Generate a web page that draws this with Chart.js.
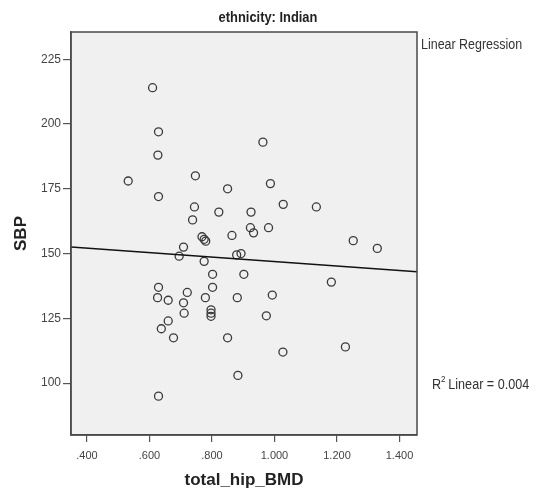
<!DOCTYPE html>
<html>
<head>
<meta charset="utf-8">
<title>SBP vs total_hip_BMD</title>
<script src="https://cdn.jsdelivr.net/npm/chart.js@4/dist/chart.umd.min.js"></script>
<style>
  html, body { margin: 0; padding: 0; background: #ffffff; }
  #wrap { position: relative; width: 539px; height: 500px; }
</style>
</head>
<body>
<div id="wrap"><canvas id="c" width="539" height="500"></canvas></div>
<script>
// total_hip_BMD (x) and SBP (y) for each subject
const bmdValues = [
  0.610, 0.629, 0.627, 0.747, 0.532, 0.850, 0.629, 0.744, 0.822, 0.925,
  0.738, 0.923, 0.933, 0.864, 0.768, 0.775, 0.780, 0.709, 0.695, 0.775,
  0.879, 0.893, 0.802, 0.902, 0.629, 0.802, 0.721, 0.626, 0.660, 0.779,
  0.881, 0.709, 0.711, 0.797, 0.797, 0.797, 0.660, 0.638, 0.677, 0.850,
  0.883, 0.629, 0.963, 0.987, 1.028, 1.134, 0.981, 1.252, 1.329, 1.182,
  0.993, 0.974, 1.027, 1.227
];
const sbpValues = [
  214, 197, 188, 180, 178, 175, 172, 168, 166, 166,
  163, 160, 158, 157, 156.5, 155.5, 154.8, 152.5, 149, 147,
  149.5, 150, 142, 142, 137, 137, 135, 133, 132, 133,
  133, 131, 127, 128.3, 127, 125.8, 124, 121, 117.5, 117.5,
  103, 95, 193, 177, 169, 168, 160, 155, 152, 139,
  134, 126, 112, 114
];

// Fitted linear regression: SBP = intercept + slope * BMD
const regIntercept = 155.6;
const regSlope = -8.67;
const rSquared = "0.004";

// Axis ranges and tick positions
const xRange = [0.349, 1.456];
const yRange = [80, 235.5];
const xTicks = [0.4, 0.6, 0.8, 1.0, 1.2, 1.4];
const yTicks = [100, 125, 150, 175, 200, 225];

const chartTitle = "ethnicity: Indian";
const xTitle = "total_hip_BMD";
const yTitle = "SBP";
const fitLegend = "Linear Regression";

const points = bmdValues.map((x, i) => ({ x: x, y: sbpValues[i] }));
const fitLine = xRange.map(x => ({ x: x, y: regIntercept + regSlope * x }));

const sans = '"Liberation Sans", Arial, sans-serif';

function fmtBmd(v) {
  const s = v.toFixed(3);
  return s.startsWith("0") ? s.slice(1) : s;
}

// Draws text squeezed horizontally (condensed look), left-aligned at x
function condensedText(ctx, parts, x, y, squeeze) {
  ctx.save();
  ctx.translate(x, y);
  ctx.scale(squeeze, 1);
  let cx = 0;
  for (const p of parts) {
    ctx.font = p.font;
    ctx.fillText(p.text, cx, p.dy || 0);
    cx += ctx.measureText(p.text).width + (p.gap || 0);
  }
  ctx.restore();
}

// Panel background, frame and side annotations
const framePlugin = {
  id: 'frame',
  beforeDraw(chart) {
    const { ctx, chartArea: a } = chart;
    ctx.save();
    ctx.fillStyle = '#f0f0f0';
    ctx.fillRect(a.left, a.top, a.right - a.left, a.bottom - a.top);
    ctx.restore();
  },
  afterDraw(chart) {
    const { ctx, chartArea: a } = chart;
    ctx.save();
    ctx.strokeStyle = '#4a4a4a';
    ctx.lineWidth = 1.5;
    ctx.strokeRect(a.left, a.top, a.right - a.left, a.bottom - a.top);

    // chart title
    ctx.fillStyle = '#222222';
    ctx.textBaseline = 'middle';
    ctx.textAlign = 'left';
    ctx.font = 'bold 14px ' + sans;
    const tw = ctx.measureText(chartTitle).width * 0.92;
    condensedText(ctx, [{ text: chartTitle, font: 'bold 14px ' + sans }], 268 - tw / 2, 18, 0.92);

    // fit legend and R squared
    ctx.fillStyle = '#333333';
    condensedText(ctx, [{ text: fitLegend, font: '14px ' + sans }], a.right + 4, 45, 0.89);
    condensedText(ctx, [
      { text: 'R', font: '14px ' + sans },
      { text: '2', font: '9px ' + sans, dy: -5, gap: 3 },
      { text: 'Linear = ' + rSquared, font: '14px ' + sans }
    ], a.right + 15, 385, 0.9);
    ctx.restore();
  }
};

new Chart(document.getElementById('c'), {
  type: 'scatter',
  data: {
    datasets: [
      {
        label: 'SBP',
        data: points,
        pointStyle: 'circle',
        pointRadius: 4,
        pointHoverRadius: 4,
        borderColor: '#3a3a3a',
        borderWidth: 1.3,
        backgroundColor: 'rgba(0,0,0,0)',
        order: 2
      },
      {
        label: fitLegend,
        type: 'line',
        data: fitLine,
        borderColor: '#111111',
        borderWidth: 1.5,
        pointRadius: 0,
        fill: false,
        order: 1
      }
    ]
  },
  options: {
    responsive: false,
    animation: false,
    events: [],
    layout: { padding: { left: 0, right: 122, top: 32, bottom: 0 } },
    plugins: {
      legend: { display: false },
      title: { display: false },
      tooltip: { enabled: false }
    },
    scales: {
      x: {
        type: 'linear',
        min: xRange[0],
        max: xRange[1],
        afterBuildTicks(scale) { scale.ticks = xTicks.map(v => ({ value: v })); },
        afterFit(scale) { scale.height = 65; },
        border: { display: true, color: '#4a4a4a', width: 1.5 },
        grid: { drawOnChartArea: false, drawTicks: true, tickLength: 7, color: '#555555', lineWidth: 1.2 },
        ticks: {
          padding: 7,
          color: '#444444',
          font: { family: sans, size: 11 },
          callback: v => fmtBmd(v),
          maxRotation: 0
        },
        title: {
          display: true,
          text: xTitle,
          color: '#222222',
          font: { family: sans, size: 17, weight: 'bold' },
          padding: { top: 0, bottom: 9 }
        }
      },
      y: {
        type: 'linear',
        min: yRange[0],
        max: yRange[1],
        afterBuildTicks(scale) { scale.ticks = yTicks.map(v => ({ value: v })); },
        afterFit(scale) { scale.width = 71; },
        border: { display: true, color: '#4a4a4a', width: 1.5 },
        grid: { drawOnChartArea: false, drawTicks: true, tickLength: 8, color: '#555555', lineWidth: 1.2 },
        ticks: {
          padding: 2,
          color: '#444444',
          font: { family: sans, size: 12 },
          callback: v => String(v)
        },
        title: {
          display: true,
          text: yTitle,
          color: '#222222',
          font: { family: sans, size: 17, weight: 'bold' },
          padding: { top: 11, bottom: 0 }
        }
      }
    }
  },
  plugins: [framePlugin]
});
</script>
</body>
</html>
